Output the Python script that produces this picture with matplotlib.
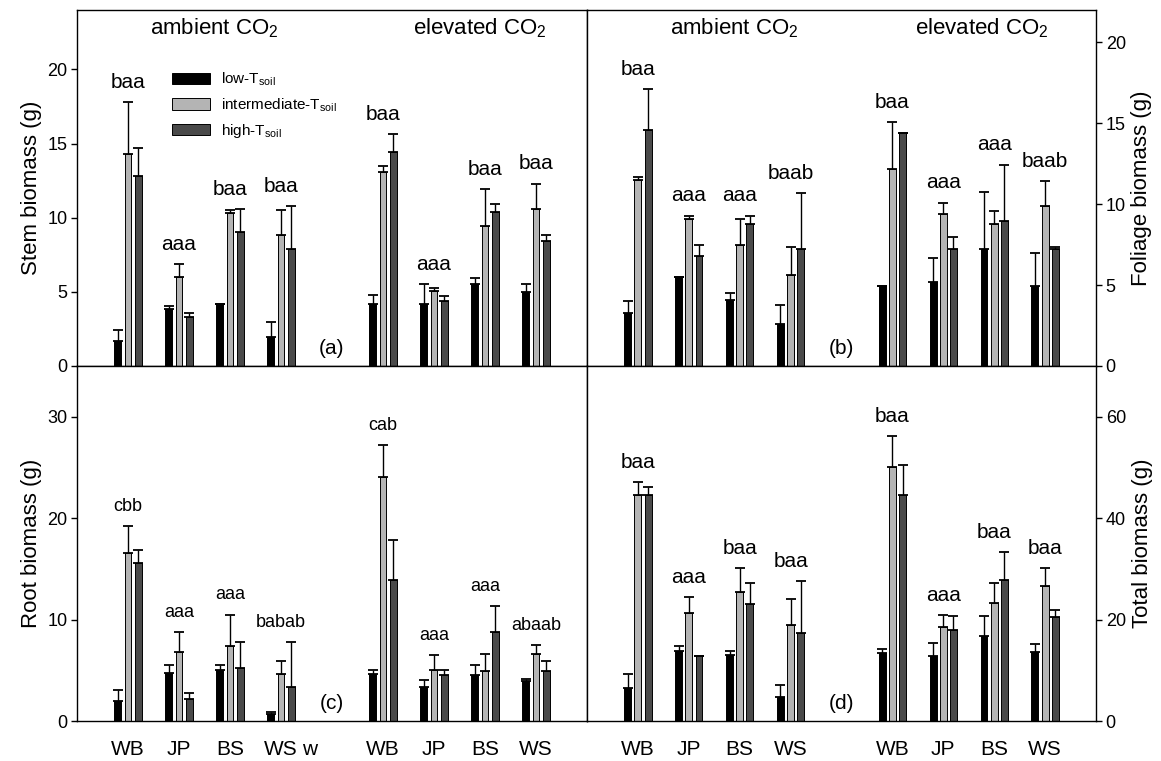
import matplotlib
matplotlib.use('Agg')
import matplotlib.pyplot as plt
import numpy as np

plt.rcParams['font.family'] = 'Liberation Sans'
plt.rcParams['mathtext.fontset'] = 'custom'
plt.rcParams['mathtext.rm'] = 'Liberation Sans'
plt.rcParams['mathtext.default'] = 'regular'

species = ['WB', 'JP', 'BS', 'WS', 'WB', 'JP', 'BS', 'WS']
treat_labels = ['low-T$_{soil}$', 'intermediate-T$_{soil}$', 'high-T$_{soil}$']

# stem biomass (a) - 4 ambient groups then 4 elevated
stem_low = [1.7, 3.85, 4.2, 1.95, 4.2, 4.2, 5.55, 5.0]
stem_low_se = [0.7, 0.2, 0.0, 1.0, 0.6, 1.35, 0.35, 0.5]
stem_int = [14.3, 6.0, 10.3, 8.8, 13.1, 5.05, 9.45, 10.6]
stem_int_se = [3.5, 0.9, 0.2, 1.7, 0.35, 0.2, 2.5, 1.7]
stem_high = [12.8, 3.3, 9.05, 7.9, 14.4, 4.35, 10.35, 8.4]
stem_high_se = [1.9, 0.3, 1.55, 2.9, 1.25, 0.4, 0.55, 0.4]
stem_letters = ['baa', 'aaa', 'baa', 'baa', 'baa', 'aaa', 'baa', 'baa']

# foliage biomass (b)
fol_low = [3.3, 5.5, 4.05, 2.6, 4.95, 5.2, 7.25, 4.95]
fol_low_se = [0.7, 0.0, 0.45, 1.2, 0.0, 1.5, 3.5, 2.05]
fol_int = [11.5, 9.1, 7.45, 5.65, 12.15, 9.4, 8.8, 9.9]
fol_int_se = [0.2, 0.2, 1.65, 1.7, 2.95, 0.7, 0.75, 1.55]
fol_high = [14.6, 6.8, 8.75, 7.25, 14.4, 7.25, 8.95, 7.25]
fol_high_se = [2.5, 0.7, 0.55, 3.45, 0.0, 0.75, 3.5, 0.1]
fol_letters = ['baa', 'aaa', 'aaa', 'baab', 'baa', 'aaa', 'aaa', 'baab']

# root biomass (c)
root_low = [2.0, 4.7, 5.0, 0.7, 4.65, 3.35, 4.5, 3.9]
root_low_se = [1.1, 0.85, 0.5, 0.2, 0.35, 0.65, 1.05, 0.25]
root_int = [16.6, 6.85, 7.35, 4.6, 24.05, 5.05, 4.9, 6.6]
root_int_se = [2.6, 1.9, 3.15, 1.3, 3.15, 1.45, 1.7, 0.85]
root_high = [15.6, 2.15, 5.25, 3.35, 13.9, 4.5, 8.75, 4.9]
root_high_se = [1.3, 0.65, 2.5, 4.4, 3.95, 0.5, 2.55, 1.05]
root_letters = ['cbb', 'aaa', 'aaa', 'babab', 'cab', 'aaa', 'aaa', 'abaab']

# total biomass (d)
tot_low = [6.5, 13.9, 13.1, 4.7, 13.4, 12.9, 16.8, 13.7]
tot_low_se = [2.7, 0.8, 0.8, 2.4, 0.8, 2.4, 3.9, 1.5]
tot_int = [44.6, 21.3, 25.5, 18.9, 50.0, 18.6, 23.2, 26.6]
tot_int_se = [2.6, 3.2, 4.6, 5.2, 6.2, 2.3, 4.1, 3.6]
tot_high = [44.5, 12.9, 23.0, 17.3, 44.6, 17.9, 27.9, 20.5]
tot_high_se = [1.6, 0.0, 4.2, 10.3, 5.9, 2.8, 5.4, 1.4]
tot_letters = ['baa', 'aaa', 'baa', 'baa', 'baa', 'aaa', 'baa', 'baa']

pos = np.array([1, 2, 3, 4, 6, 7, 8, 9])
colors = ['black', '#b4b4b4', '#4a4a4a']
W, H = 1161, 761


def panel(ax, means, errs, letters, ymax, yticks, side, ylabel, tag, lsize=13):
    bars = []
    for k in range(3):
        x = pos + (k - 1) * 0.2
        b = ax.bar(x, means[k], width=0.135, color=colors[k], edgecolor='black',
                   linewidth=0.7, label=treat_labels[k], zorder=2)
        ax.errorbar(x, means[k], yerr=[np.zeros(8), errs[k]], fmt='none',
                    ecolor='black', elinewidth=1, capsize=3.5, capthick=1.3, zorder=3)
        bars.append(b)
    tops = np.max([np.array(means[k]) + np.array(errs[k]) for k in range(3)], axis=0)
    for p, t, s in zip(pos, tops, letters):
        ax.text(p, t + 0.055 * ymax, s, ha='center', va='center', fontsize=lsize)
    ax.set_xlim(0, 10)
    ax.set_ylim(0, ymax)
    ax.set_yticks(yticks)
    if side == 'right':
        ax.yaxis.tick_right()
        ax.yaxis.set_label_position('right')
    ax.tick_params(axis='y', direction='out', length=4, width=1, pad=3, labelsize=13)
    ax.set_ylabel(ylabel, fontsize=16)
    ax.text(5, 0.05, tag, transform=ax.get_xaxis_transform(), ha='center',
            va='center', fontsize=15)
    for sp in ax.spines.values():
        sp.set_linewidth(1)
    return bars


fig = plt.figure(figsize=(11.61, 7.61), dpi=100)
ax_a = fig.add_axes([77 / W, (H - 366) / H, 510 / W, 356 / H])
ax_b = fig.add_axes([587 / W, (H - 366) / H, 509 / W, 356 / H])
ax_c = fig.add_axes([77 / W, (H - 721) / H, 510 / W, 355 / H])
ax_d = fig.add_axes([587 / W, (H - 721) / H, 509 / W, 355 / H])

bars = panel(ax_a, [stem_low, stem_int, stem_high], [stem_low_se, stem_int_se, stem_high_se],
             stem_letters, 24, [0, 5, 10, 15, 20], 'left', 'Stem biomass (g)', '(a)', 15)
panel(ax_b, [fol_low, fol_int, fol_high], [fol_low_se, fol_int_se, fol_high_se],
      fol_letters, 22, [0, 5, 10, 15, 20], 'right', 'Foliage biomass (g)', '(b)', 15)
panel(ax_c, [root_low, root_int, root_high], [root_low_se, root_int_se, root_high_se],
      root_letters, 35, [0, 10, 20, 30], 'left', 'Root biomass (g)', '(c)', 13)
panel(ax_d, [tot_low, tot_int, tot_high], [tot_low_se, tot_int_se, tot_high_se],
      tot_letters, 70, [0, 20, 40, 60], 'right', 'Total biomass (g)', '(d)', 15)

for ax in (ax_a, ax_b):
    ax.set_xticks([])
# panel (c) carries a stray "w" label after the last ambient group
ax_c.set_xticks(list(pos[:4]) + [4.57] + list(pos[4:]))
ax_c.set_xticklabels(species[:4] + ['w'] + species[4:], fontsize=15)
ax_d.set_xticks(pos)
ax_d.set_xticklabels(species, fontsize=15)
for ax in (ax_c, ax_d):
    ax.tick_params(axis='x', length=0, pad=14)

ax_a.text(0.27, 0.95, 'ambient CO$_2$', transform=ax_a.transAxes, ha='center', va='center', fontsize=16)
ax_a.text(0.79, 0.95, 'elevated CO$_2$', transform=ax_a.transAxes, ha='center', va='center', fontsize=16)
ax_b.text(0.29, 0.95, 'ambient CO$_2$', transform=ax_b.transAxes, ha='center', va='center', fontsize=16)
ax_b.text(0.775, 0.95, 'elevated CO$_2$', transform=ax_b.transAxes, ha='center', va='center', fontsize=16)

ax_a.legend(handles=bars, loc='upper left', bbox_to_anchor=(0.186, 0.83), frameon=False,
            fontsize=11, handlelength=2.5, handleheight=0.75, handletextpad=0.7,
            labelspacing=0.55, borderpad=0, borderaxespad=0)

fig.savefig('out.png', dpi=100)
